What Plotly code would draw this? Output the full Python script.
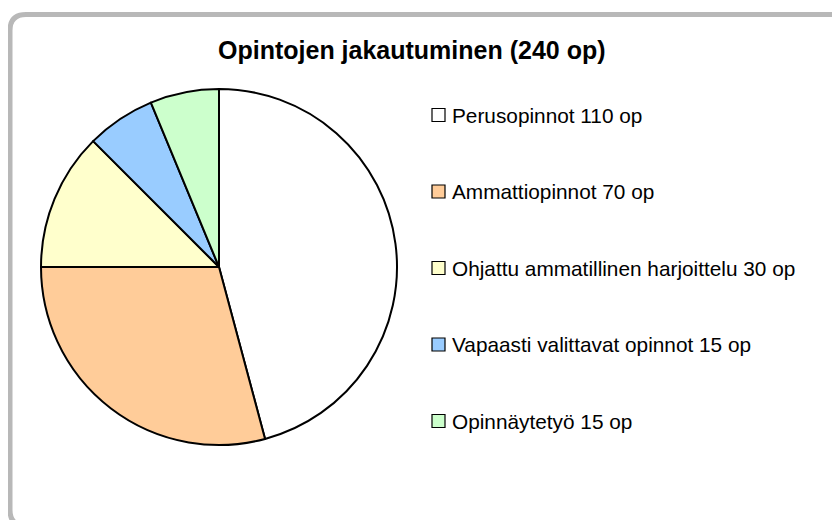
import plotly.graph_objects as go

title = "Opintojen jakautuminen (240 op)"
labels = ["Perusopinnot 110 op", "Ammattiopinnot 70 op",
          "Ohjattu ammatillinen harjoittelu 30 op",
          "Vapaasti valittavat opinnot 15 op", "Opinnäytetyö 15 op"]
values = [110, 70, 30, 15, 15]
colors = ["#FFFFFF", "#FFCC99", "#FFFFCC", "#99CCFF", "#CCFFCC"]

# the page body has an 8px margin; work in window pixels and convert
OFF = 8
W, H = 840 - OFF, 520 - OFF
FONT = "Arial, Liberation Sans, sans-serif"

def px(x): return (x - OFF) / W
def py(y): return 1 - (y - OFF) / H

fig = go.Figure(go.Pie(
    labels=labels, values=values, sort=False, direction="clockwise",
    rotation=0, textinfo="none", hoverinfo="label+value",
    marker=dict(colors=colors, line=dict(color="#000000", width=2)),
    domain=dict(x=[px(41), px(397)], y=[py(446), py(88)]),
    showlegend=False,
))

shapes = []
annotations = []
# rounded outer frame (right and bottom edges lie just outside the view)
x0, y0, x1, y1, r = 10, 14.5, 846, 526, 16
path = (f"M {px(x0+r)},{py(y0)} L {px(x1-r)},{py(y0)} Q {px(x1)},{py(y0)} {px(x1)},{py(y0+r)} "
        f"L {px(x1)},{py(y1-r)} Q {px(x1)},{py(y1)} {px(x1-r)},{py(y1)} L {px(x0+r)},{py(y1)} "
        f"Q {px(x0)},{py(y1)} {px(x0)},{py(y1-r)} L {px(x0)},{py(y0+r)} Q {px(x0)},{py(y0)} {px(x0+r)},{py(y0)} Z")
shapes.append(dict(type="path", xref="paper", yref="paper", path=path,
                   line=dict(color="#B8B8B8", width=5), layer="below"))

# legend
leg_y0, leg_dy = 115, 76.5
for i, (lab, col) in enumerate(zip(labels, colors)):
    yc = leg_y0 + i * leg_dy
    shapes.append(dict(type="rect", xref="paper", yref="paper",
                       x0=px(432), x1=px(445), y0=py(yc + 6.5), y1=py(yc - 6.5),
                       fillcolor=col, line=dict(color="#000000", width=1.2)))
    annotations.append(dict(x=px(450), y=py(yc), xref="paper", yref="paper",
                            text=lab, showarrow=False, xanchor="left", yanchor="middle",
                            font=dict(family=FONT, size=20.8, color="#000000")))

annotations.append(dict(x=px(412), y=py(50), xref="paper", yref="paper",
                        text=f"<b>{title}</b>", showarrow=False,
                        xanchor="center", yanchor="middle",
                        font=dict(family=FONT, size=25, color="#000000")))

fig.update_layout(width=W, height=H, margin=dict(l=0, r=0, t=0, b=0),
                  paper_bgcolor="#FFFFFF", plot_bgcolor="#FFFFFF",
                  shapes=shapes, annotations=annotations)

fig.write_html("out.html")
